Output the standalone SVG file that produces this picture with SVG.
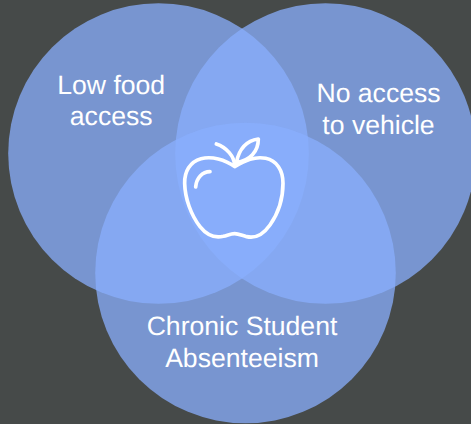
<svg xmlns="http://www.w3.org/2000/svg" width="471" height="424" viewBox="0 0 471 424">
<style>
.c{fill:#89AFFD;fill-opacity:.75}
.t{font-family:"Liberation Sans",Arial,sans-serif;font-size:26.6px;fill:#fff;text-anchor:middle;text-rendering:geometricPrecision}
.i{fill:none;stroke:#fff;stroke-width:11;stroke-linecap:round;stroke-linejoin:round}
</style>
<rect width="471" height="424" fill="#464A49"/>
<g id="low-food"><circle class="c" cx="158.500" cy="153.500" r="150.300"/></g>
<g id="no-vehicle"><circle class="c" cx="325.500" cy="153.500" r="150.300"/></g>
<g id="absenteeism"><circle class="c" cx="245.500" cy="273" r="150.300"/></g>
<g id="low-food-label"><text class="t" x="111.200" y="94">Low food</text><text class="t" x="111.200" y="125">access</text></g>
<g id="no-vehicle-label"><text class="t" x="378.500" y="102">No access</text><text class="t" x="378.500" y="134">to vehicle</text></g>
<g id="absenteeism-label"><text class="t" x="242" y="335">Chronic Student</text><text class="t" x="242" y="367">Absenteeism</text></g>
<g id="apple" transform="translate(165 120) scale(.3333)">
<path class="i" d="M209 140C180 118 140 108 108 116C75 125 58 155 59 190C60 235 78 285 105 320C125 345 150 355 175 349C190 345 198 341 209 341C220 341 230 346 245 350C270 356 295 343 315 315C340 280 354 235 354 190C354 150 335 122 302 115C270 108 240 122 209 140Z"/>
<path class="i" d="M209 136C208 110 185 82 154 72"/>
<path class="i" d="M214 128C222 88 245 62 280 57C280 95 255 122 214 128Z"/>
<path class="i" d="M135 155C112 155 94 174 92 201"/>
</g>
<g id="connectors"/>
</svg>
